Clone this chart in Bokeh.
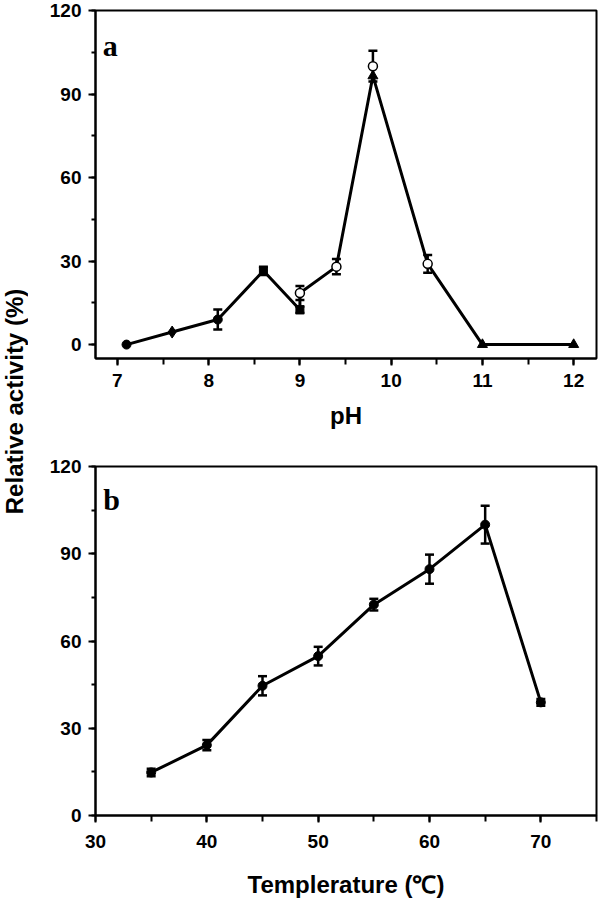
import math
from bokeh.plotting import figure
from bokeh.models import Range1d, Label, Whisker, TeeHead, ColumnDataSource, SingleIntervalTicker
from bokeh.layouts import row, column
from bokeh.embed import file_html
from bokeh.resources import INLINE

# ---------------- data: panel a (pH) ----------------
ph_line_x = [7.1, 7.6, 8.1, 8.6, 9.0, 9.0, 9.4, 9.8, 10.4, 11.0, 12.0]
ph_line_y = [0.0, 4.5, 9.0, 26.5, 12.5, 18.5, 28.0, 96.5, 29.0, 0.0, 0.0]

ph_circle_x = [7.1, 8.1]
ph_circle_y = [0.0, 9.0]
ph_diamond_x = [7.6]
ph_diamond_y = [4.5]
ph_square_x = [8.6, 9.0]
ph_square_y = [26.5, 12.5]
ph_open_x = [9.0, 9.4, 9.8, 10.4]
ph_open_y = [18.5, 28.0, 100.0, 29.0]
ph_tri_x = [9.8, 11.0, 12.0]
ph_tri_y = [96.5, 0.0, 0.0]

ph_err_x = [8.1, 8.6, 9.0, 9.0, 9.4, 9.8, 10.4]
ph_err_y = [9.0, 26.5, 12.5, 18.5, 28.0, 100.0, 29.0]
ph_err_sd = [3.6, 1.5, 1.2, 2.5, 2.7, 5.5, 3.2]

# ---------------- data: panel b (temperature) ----------------
temp_x = [35, 40, 45, 50, 55, 60, 65, 70]
temp_y = [14.8, 24.2, 44.6, 54.8, 72.5, 84.7, 100.0, 38.9]
temp_sd = [1.3, 1.8, 3.3, 3.2, 2.0, 5.0, 6.5, 1.2]

TICK_FONT = "Liberation Sans"
TOTAL_H = 900
LABEL_W = 28
FIG_W = 570


def style(p, xlabel, label_standoff, title_standoff):
    p.outline_line_color = "black"
    p.outline_line_width = 2
    p.outline_line_alpha = 1
    p.xgrid.visible = False
    p.ygrid.visible = False
    p.background_fill_color = "white"
    p.border_fill_color = "white"
    for ax in (p.xaxis[0], p.yaxis[0]):
        ax.axis_line_width = 2
        ax.axis_line_color = "black"
        ax.major_tick_line_width = 2
        ax.minor_tick_line_width = 2
        ax.major_tick_in = 0
        ax.minor_tick_in = 0
        ax.major_tick_out = 7
        ax.major_label_text_font = TICK_FONT
        ax.major_label_text_font_style = "bold"
        ax.major_label_text_font_size = "19px"
        ax.major_label_text_color = "black"
    p.xaxis[0].major_label_standoff = label_standoff
    p.yaxis[0].major_label_standoff = 7
    p.xaxis[0].minor_tick_out = 6
    p.yaxis[0].minor_tick_out = 4
    p.xaxis[0].axis_label = xlabel
    p.xaxis[0].axis_label_text_font = TICK_FONT
    p.xaxis[0].axis_label_text_font_style = "bold"
    p.xaxis[0].axis_label_text_font_size = "24px"
    p.xaxis[0].axis_label_text_color = "black"
    p.xaxis[0].axis_label_standoff = title_standoff


def whiskers(p, xs, ys, sds):
    src = ColumnDataSource(dict(x=xs,
                                upper=[y + s for y, s in zip(ys, sds)],
                                lower=[y - s for y, s in zip(ys, sds)]))
    w = Whisker(source=src, base="x", upper="upper", lower="lower",
                line_color="black", line_width=2.5,
                upper_head=TeeHead(size=9, line_color="black", line_width=2.5),
                lower_head=TeeHead(size=9, line_color="black", line_width=2.5))
    p.add_layout(w)


# ---------------- panel a ----------------
pa = figure(width=FIG_W, height=455, output_backend="svg", toolbar_location=None,
            x_range=Range1d(6.76, 12.25), y_range=Range1d(-5, 120),
            min_border_left=67, min_border_right=2, min_border_top=10, min_border_bottom=97)
pa.xaxis[0].ticker = SingleIntervalTicker(interval=1, num_minor_ticks=2)
pa.yaxis[0].ticker = SingleIntervalTicker(interval=30, num_minor_ticks=2)
style(pa, "pH", 8, 12)

pa.line(ph_line_x, ph_line_y, line_color="black", line_width=3)
whiskers(pa, ph_err_x, ph_err_y, ph_err_sd)
pa.scatter(ph_circle_x, ph_circle_y, marker="circle", size=9, fill_color="black", line_color="black")
pa.scatter(ph_diamond_x, ph_diamond_y, marker="diamond", size=12, fill_color="black", line_color="black")
pa.scatter(ph_square_x, ph_square_y, marker="square", size=8, fill_color="black", line_color="black")
pa.scatter(ph_tri_x, ph_tri_y, marker="triangle", size=10, fill_color="black", line_color="black")
pa.scatter(ph_open_x, ph_open_y, marker="circle", size=9, fill_color="white", line_color="black", line_width=1.5)

pa.add_layout(Label(x=6.84, y=107.5, text="a", text_font="Liberation Serif",
                    text_font_style="bold", text_font_size="30px", text_color="black",
                    text_baseline="alphabetic", text_align="left"))

# ---------------- panel b ----------------
pb = figure(width=FIG_W, height=TOTAL_H - 455, output_backend="svg", toolbar_location=None,
            x_range=Range1d(30, 75), y_range=Range1d(0, 120),
            min_border_left=67, min_border_right=2, min_border_top=11, min_border_bottom=84)
pb.xaxis[0].ticker = SingleIntervalTicker(interval=10, num_minor_ticks=2)
pb.yaxis[0].ticker = SingleIntervalTicker(interval=30, num_minor_ticks=2)
style(pb, "Templerature (\u2103)", 12, 20)

pb.line(temp_x, temp_y, line_color="black", line_width=3)
whiskers(pb, temp_x, temp_y, temp_sd)
pb.scatter(temp_x, temp_y, marker="circle", size=9, fill_color="black", line_color="black")

pb.add_layout(Label(x=30.7, y=108.5, text="b", text_font="Liberation Serif",
                    text_font_style="bold", text_font_size="30px", text_color="black",
                    text_baseline="alphabetic", text_align="left"))

# ---------------- shared y label ----------------
pl = figure(width=LABEL_W, height=TOTAL_H, output_backend="svg", toolbar_location=None,
            x_range=Range1d(0, LABEL_W), y_range=Range1d(0, TOTAL_H),
            min_border=0, x_axis_location=None, y_axis_location=None)
pl.outline_line_color = None
pl.xgrid.visible = False
pl.ygrid.visible = False
pl.add_layout(Label(x=LABEL_W / 2, y=TOTAL_H - 401, text="Relative activity (%)", angle=math.pi / 2,
                    text_font=TICK_FONT, text_font_style="bold", text_font_size="24px",
                    text_color="black", text_align="center", text_baseline="middle"))

layout = row(pl, column(pa, pb, spacing=0), spacing=0)
open("out.html", "w").write(file_html(layout, INLINE))
